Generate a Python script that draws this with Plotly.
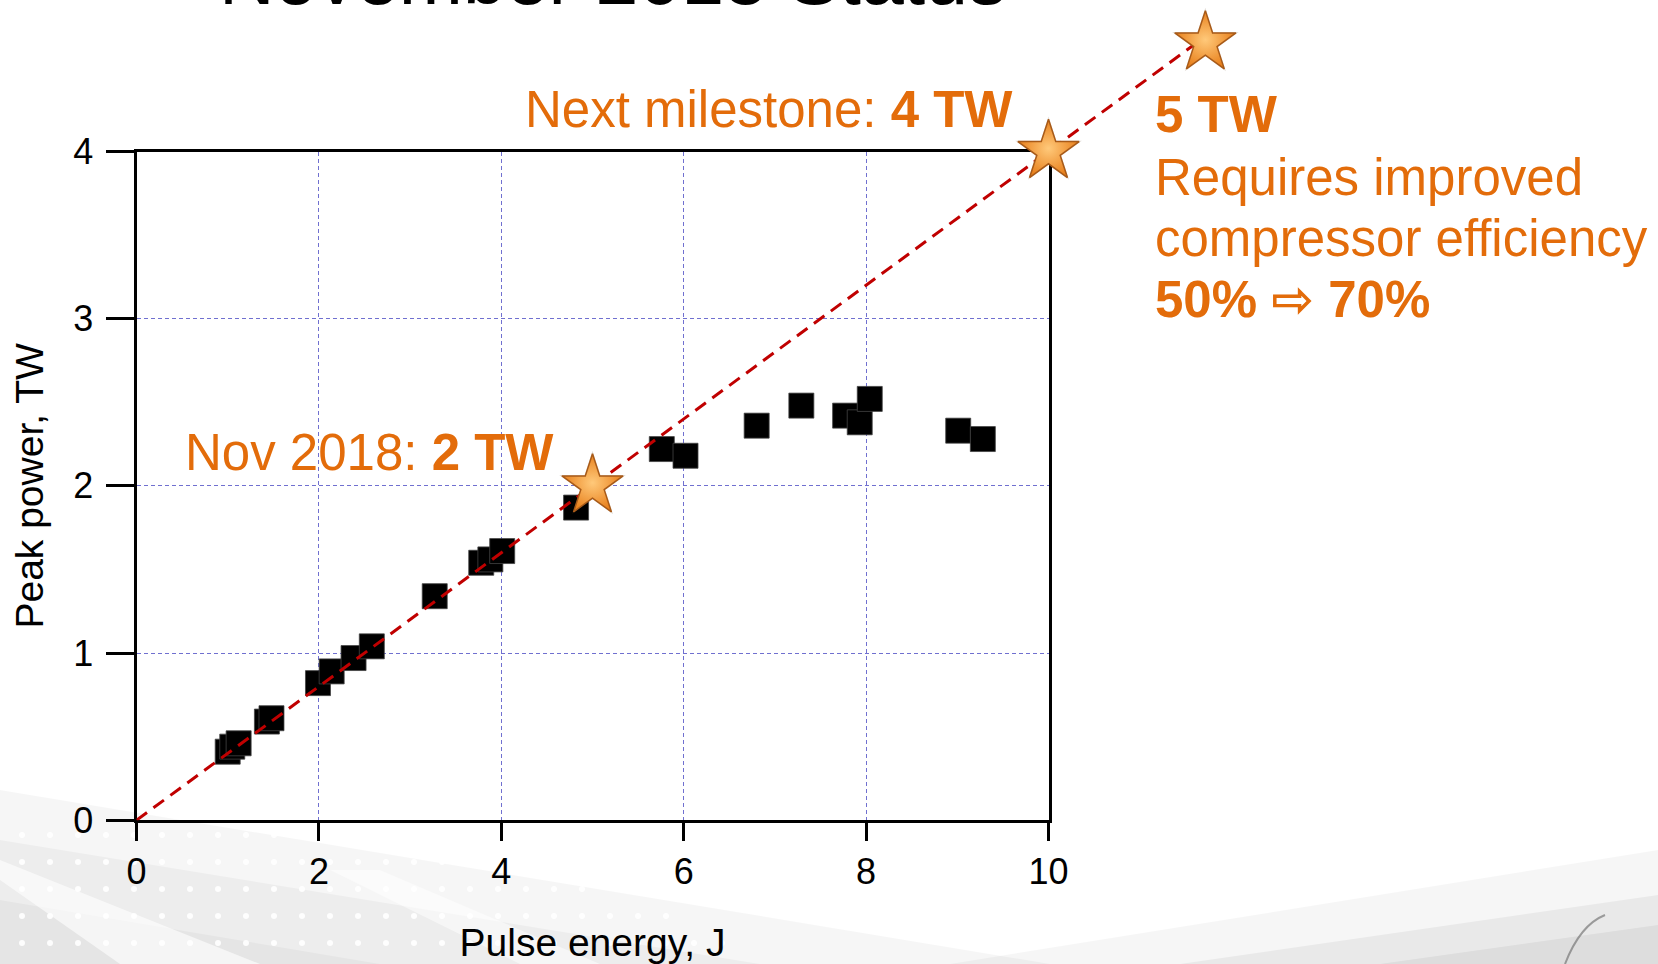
import plotly.graph_objects as go

# Measured shots: pulse energy (J) against peak power (TW)
energy_j = [1.00, 1.05, 1.12, 1.43, 1.48, 1.99, 2.14, 2.38, 2.58, 3.27,
            3.78, 3.88, 4.01, 4.82, 5.76, 6.02, 6.80, 7.29, 7.77, 7.93,
            8.04, 9.01, 9.28]
peak_tw = [0.41, 0.44, 0.46, 0.59, 0.61, 0.82, 0.89, 0.97, 1.04, 1.34,
           1.54, 1.56, 1.61, 1.87, 2.22, 2.18, 2.36, 2.48, 2.42, 2.38,
           2.52, 2.33, 2.28]

# Milestones along the 0.4 TW/J scaling line
milestone_energy = [5.0, 10.0, 11.72]
milestone_power = [2.0, 4.0, 4.65]

# Scaling line end points
trend_energy = [0.0, 11.6]
trend_power = [0.0, 4.64]

x_ticks = [0, 2, 4, 6, 8, 10]
y_ticks = [0, 1, 2, 3, 4]
x_range = [0, 10]
y_range = [0, 4]

ORANGE = "#E36C0A"
FONT = "Liberation Sans, Arial, Helvetica, sans-serif"

W, H = 1658, 964
plot_left, plot_right = 136.5, 1048.5
plot_top, plot_bottom = 151.5, 820.2
ext_right, ext_top = 1330.0, 0.0

x_dom = [plot_left / W, plot_right / W]
y_dom = [1 - plot_bottom / H, 1 - plot_top / H]
# second, wider subplot sharing the same data scale (for the extrapolated line)
x2_dom = [plot_left / W, ext_right / W]
y2_dom = [1 - plot_bottom / H, 1 - ext_top / H]
x2_max = x_range[1] * (ext_right - plot_left) / (plot_right - plot_left)
y2_max = y_range[1] * (plot_bottom - ext_top) / (plot_bottom - plot_top)


def px(x):
    return x / W


def py(y):
    return 1 - y / H


fig = go.Figure()

fig.add_trace(go.Scatter(
    x=energy_j, y=peak_tw, mode="markers",
    marker=dict(symbol="square", size=25, color="black",
                line=dict(color="#444444", width=0.8)),
    xaxis="x", yaxis="y", showlegend=False, hoverinfo="x+y",
))

fig.add_trace(go.Scatter(
    x=trend_energy, y=trend_power, mode="lines",
    line=dict(color="#C00000", width=3, dash="13px,8px"),
    xaxis="x2", yaxis="y2", showlegend=False, hoverinfo="skip",
))

# soft shadow behind the stars
fig.add_trace(go.Scatter(
    x=milestone_energy, y=milestone_power, mode="markers",
    marker=dict(symbol="star", size=50, color="rgba(90,60,30,0.18)",
                line=dict(width=0)),
    xaxis="x2", yaxis="y2", showlegend=False, hoverinfo="skip",
    cliponaxis=False,
))

fig.add_trace(go.Scatter(
    x=milestone_energy, y=milestone_power, mode="markers",
    marker=dict(symbol="star", size=46, color="#E8801C",
                gradient=dict(type="radial", color="#FFC97A"),
                line=dict(color="#A85A18", width=1.5)),
    xaxis="x2", yaxis="y2", showlegend=False, hoverinfo="x+y",
    cliponaxis=False,
))

axis_common = dict(
    showline=True, linecolor="black", linewidth=3, mirror=True,
    ticks="outside", tickcolor="black", tickwidth=3,
    tickfont=dict(family=FONT, size=36, color="black"),
    showgrid=True, gridcolor="#7070D0", gridwidth=1.2, griddash="4px,3px",
    zeroline=False, automargin=False,
)

fig.update_layout(
    template="none",
    width=W, height=H, autosize=False,
    margin=dict(l=0, r=0, t=0, b=0, pad=0),
    paper_bgcolor="white", plot_bgcolor="rgba(0,0,0,0)",
    font=dict(family=FONT, color="black"),
    xaxis=dict(domain=x_dom, range=x_range, tickvals=x_ticks, ticklen=18,
               anchor="y",
               title=dict(text="Pulse energy, J",
                          font=dict(family=FONT, size=39), standoff=38),
               **axis_common),
    yaxis=dict(domain=y_dom, range=y_range, tickvals=y_ticks, ticklen=28,
               anchor="x", ticklabelstandoff=5,
               title=dict(text="Peak power, TW",
                          font=dict(family=FONT, size=39), standoff=18),
               **axis_common),
    xaxis2=dict(domain=x2_dom, range=[0, x2_max], anchor="y2", visible=False,
                showgrid=False, zeroline=False, automargin=False),
    yaxis2=dict(domain=y2_dom, range=[0, y2_max], anchor="x2", visible=False,
                showgrid=False, zeroline=False, automargin=False),
)

# slide heading, partly above the visible area
fig.add_annotation(
    text="November 2018 Status", xref="paper", yref="paper",
    x=px(217), y=py(22), xanchor="left", yanchor="bottom", showarrow=False,
    font=dict(family=FONT, size=77, color="black"),
)

label_font = dict(family=FONT, size=51, color=ORANGE)


def x2v(pix):
    return (pix - plot_left) / (plot_right - plot_left) * x_range[1]


def y2v(pix):
    return (plot_bottom - pix) / (plot_bottom - plot_top) * y_range[1]


labels = [
    ("Nov 2018: <b>2 TW</b>", 556, 452, "right"),
    ("Next milestone: <b>4 TW</b>", 1015, 109, "right"),
    ("<b>5 TW</b>", 1153, 114, "left"),
    ("Requires improved", 1153, 177, "left"),
    ("compressor efficiency", 1153, 238, "left"),
    ("<b>50% <span style=\"font-family:DejaVu Sans\">\u21e8</span> 70%</b>",
     1153, 299, "left"),
]
for text, lx, ly, anchor in labels:
    fig.add_annotation(
        text=text, xref="x2", yref="y2", x=x2v(lx), y=y2v(ly),
        xanchor=anchor, yanchor="middle", showarrow=False, font=label_font,
    )

# light template backdrop along the bottom of the slide
shapes = []


def poly(points, fill):
    d = "M " + " L ".join(f"{px(a):.5f},{py(b):.5f}" for a, b in points) + " Z"
    shapes.append(dict(type="path", path=d, xref="paper", yref="paper",
                       fillcolor=fill, line=dict(width=0), layer="below"))


poly([(0, 790), (1050, 964), (0, 964)], "rgba(0,0,0,0.035)")
poly([(0, 840), (760, 964), (0, 964)], "rgba(0,0,0,0.035)")
poly([(0, 900), (380, 964), (0, 964)], "rgba(0,0,0,0.03)")
poly([(120, 964), (0, 880), (0, 860), (260, 964)], "rgba(255,255,255,0.6)")
poly([(520, 964), (330, 870), (380, 870), (600, 964)], "rgba(255,255,255,0.5)")
poly([(950, 964), (1658, 850), (1658, 964)], "rgba(0,0,0,0.035)")
poly([(1180, 964), (1658, 895), (1658, 964)], "rgba(0,0,0,0.05)")
poly([(1380, 964), (1658, 925), (1658, 964)], "rgba(0,0,0,0.05)")

for row, yy in enumerate([835, 862, 889, 916, 943]):
    limit = 420 + row * 90
    for col in range(26):
        xx = 22 + col * 28
        if xx > limit:
            break
        shapes.append(dict(type="circle", xref="paper", yref="paper",
                           x0=px(xx - 3), x1=px(xx + 3),
                           y0=py(yy + 3), y1=py(yy - 3),
                           fillcolor="rgba(255,255,255,0.9)",
                           line=dict(width=0), layer="below"))

shapes.append(dict(type="path", xref="paper", yref="paper",
                   path=f"M {px(1565)},{py(964)} Q {px(1580)},{py(925)} {px(1605)},{py(915)}",
                   line=dict(color="rgba(120,120,120,0.7)", width=2), layer="below"))

fig.update_layout(shapes=shapes)

fig.write_html("out.html")
